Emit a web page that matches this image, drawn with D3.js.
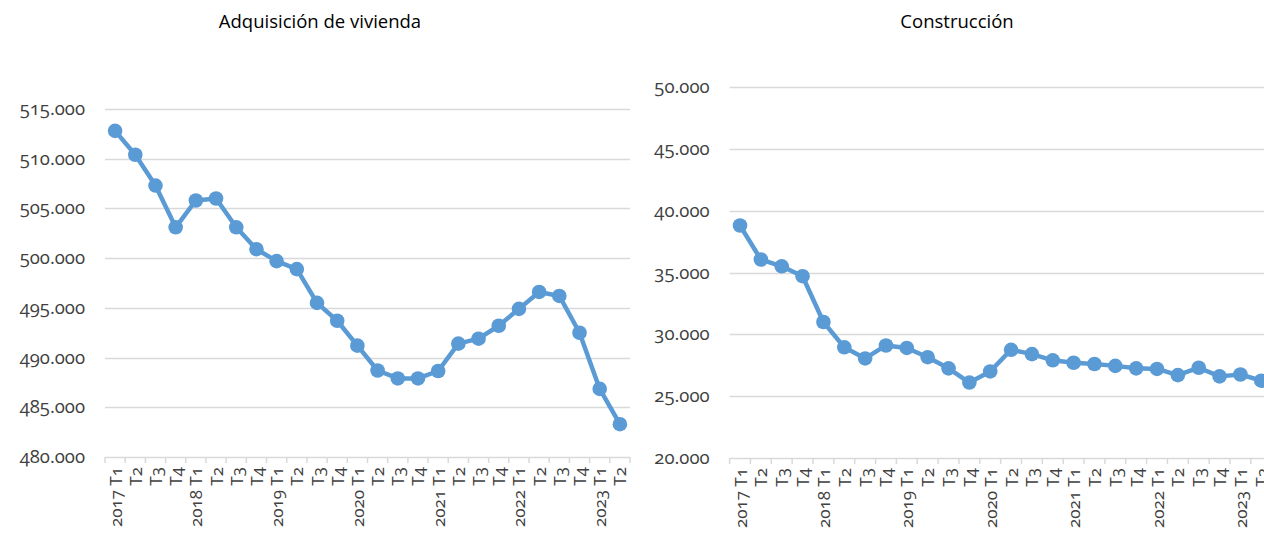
<!DOCTYPE html>
<html>
<head>
<meta charset="utf-8">
<script src="https://cdn.jsdelivr.net/npm/d3@7"></script>
<style>
  body { margin: 0; background: #fff; }
  svg text { font-family: "Open Sans", sans-serif; font-variant-numeric: oldstyle-nums; fill: #404040; }
</style>
</head>
<body>
<script>
// trimestres 2017 T1 .. 2023 T2
var periodos = ["2017 T1","T2","T3","T4","2018 T1","T2","T3","T4","2019 T1","T2","T3","T4",
                "2020 T1","T2","T3","T4","2021 T1","T2","T3","T4","2022 T1","T2","T3","T4",
                "2023 T1","T2"];

var adquisicion = [512800, 510400, 507300, 503100, 505800, 506000, 503100, 500900,
                   499700, 498900, 495500, 493700, 491200, 488700, 487900, 487900,
                   488650, 491400, 491900, 493200, 494900, 496600, 496200, 492500,
                   486850, 483300];

var construccion = [38800, 36050, 35500, 34700, 31000, 28950, 28050, 29100,
                    28900, 28150, 27250, 26100, 27000, 28750, 28400, 27900,
                    27700, 27600, 27450, 27250, 27200, 26700, 27300, 26600,
                    26750, 26250];

var ticksAdq = [480000, 485000, 490000, 495000, 500000, 505000, 510000, 515000];
var ticksCons = [20000, 25000, 30000, 35000, 40000, 45000, 50000];

var w = 1264, h = 536;
var azul = "#5b9bd5", gris = "#d9d9d9";

var es = d3.formatLocale({decimal: ",", thousands: ".", grouping: [3], currency: ["", " €"]});
var fmt = es.format(",.0f");

var svg = d3.select("body").append("svg")
    .attr("width", w)
    .attr("height", h);

function grafico(cfg) {
  var x = d3.scaleBand()
      .domain(d3.range(periodos.length))
      .range([cfg.x0, cfg.x1])
      .padding(0);
  var y = d3.scaleLinear()
      .domain([cfg.ticks[0], cfg.ticks[cfg.ticks.length - 1]])
      .range([cfg.y0, cfg.y1]);

  var g = svg.append("g");

  // title
  g.append("text")
    .attr("x", cfg.tx)
    .attr("y", 28)
    .attr("text-anchor", "middle")
    .style("font-size", "18.5px")
    .style("fill", "#000")
    .text(cfg.titulo);

  // gridlines
  g.selectAll(".grid")
    .data(cfg.ticks)
    .enter()
    .append("line")
    .attr("x1", cfg.x0)
    .attr("x2", cfg.x1)
    .attr("y1", (d) => Math.round(y(d)) + 0.5)
    .attr("y2", (d) => Math.round(y(d)) + 0.5)
    .style("stroke", gris)
    .style("stroke-width", 1.5);

  // y labels
  g.selectAll(".ylab")
    .data(cfg.ticks)
    .enter()
    .append("text")
    .attr("x", cfg.x0 - 20)
    .attr("y", (d) => y(d) + 6)
    .attr("text-anchor", "end")
    .style("font-size", "18.5px")
    .text((d) => fmt(d));

  // tick marks between categories
  var bordes = d3.range(periodos.length + 1).map((i) => cfg.x0 + i * x.bandwidth());
  g.selectAll(".tick")
    .data(bordes)
    .enter()
    .append("line")
    .attr("x1", (d) => d)
    .attr("x2", (d) => d)
    .attr("y1", cfg.y0)
    .attr("y2", cfg.y0 + 6)
    .style("stroke", gris)
    .style("stroke-width", 1.5);

  // x labels
  g.selectAll(".xlab")
    .data(periodos)
    .enter()
    .append("text")
    .attr("transform", (d, i) => "translate(" + (x(i) + x.bandwidth() / 2 + 6.5) + "," + (cfg.y0 + 10) + ") rotate(-90)")
    .attr("text-anchor", "end")
    .style("font-size", "17px")
    .text((d) => d);

  // line + markers
  var line = d3.line()
      .x((d, i) => x(i) + x.bandwidth() / 2)
      .y((d) => y(d));

  g.append("path")
    .datum(cfg.valores)
    .attr("d", line)
    .style("fill", "none")
    .style("stroke", azul)
    .style("stroke-width", 4.5)
    .style("stroke-linejoin", "round");

  g.selectAll(".pt")
    .data(cfg.valores)
    .enter()
    .append("circle")
    .attr("cx", (d, i) => x(i) + x.bandwidth() / 2)
    .attr("cy", (d) => y(d))
    .attr("r", 7.3)
    .style("fill", azul);
}

grafico({titulo: "Adquisición de vivienda", valores: adquisicion, ticks: ticksAdq,
         x0: 105, x1: 630, y0: 457, y1: 109, tx: 320});
grafico({titulo: "Construcción", valores: construccion, ticks: ticksCons,
         x0: 729.6, x1: 1271.7, y0: 458, y1: 87, tx: 957});
</script>
</body>
</html>
